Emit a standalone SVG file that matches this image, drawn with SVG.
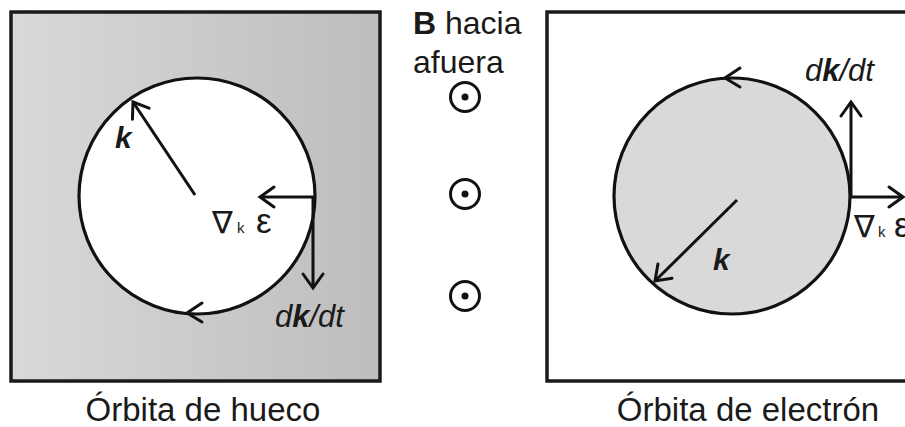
<svg xmlns="http://www.w3.org/2000/svg" width="905" height="427" viewBox="0 0 905 427">
<defs>
  <linearGradient id="gL" x1="0" y1="0" x2="1" y2="0">
    <stop offset="0" stop-color="#d9d9d9"/>
    <stop offset="1" stop-color="#bdbdbd"/>
  </linearGradient>
  <marker id="ah" markerUnits="userSpaceOnUse" markerWidth="30" markerHeight="30" viewBox="-20 -15 30 30" refX="0" refY="0" orient="auto" overflow="visible">
    <path d="M-14,-10 L0,0 L-14,10" fill="none" stroke="#111" stroke-width="3" stroke-linecap="round" stroke-linejoin="miter"/>
  </marker>
</defs>
<style>
  .box{stroke:#1a1a1a;stroke-width:3.5}
  .orbit{stroke:#111;stroke-width:3.2}
  .arr{stroke:#111;stroke-width:3;fill:none;marker-end:url(#ah)}
  .chev{stroke:#111;stroke-width:3;fill:none;stroke-linecap:round}
  .t{font-family:"Liberation Sans",Arial,sans-serif;fill:#1a1a1a}
  .it{font-style:italic}
  .bi{font-style:italic;font-weight:bold}
  .nab{font-family:"DejaVu Sans",sans-serif;fill:#1a1a1a}
  .sym{fill:none;stroke:#111;stroke-width:3}
</style>
<rect width="905" height="427" fill="#ffffff"/>

<g id="hole-panel">
  <rect class="box" x="11" y="12" width="369" height="369" fill="url(#gL)"/>
  <circle class="orbit" cx="197" cy="196" r="118" fill="#ffffff"/>
  <path class="chev" d="M202,303 L187,313 L202,322"/>
  <text class="t bi" x="115" y="148" font-size="30">k</text>
  <text class="nab" x="212" y="233" font-size="31">∇</text>
  <text class="t" x="237" y="233" font-size="15">k</text>
  <text class="t" x="256" y="233" font-size="35">ε</text>
  <text class="t it" x="275" y="327" font-size="31">d<tspan class="bi">k</tspan>/dt</text>
  <text class="t" x="203" y="421" font-size="33" text-anchor="middle">Órbita de hueco</text>
</g>

<g id="electron-panel">
  <rect class="box" x="547" y="12" width="400" height="369" fill="#ffffff"/>
  <circle class="orbit" cx="732" cy="196" r="118" fill="#d9d9d9"/>
  <path class="chev" d="M740,68 L725,78 L740,87"/>
  <text class="t bi" x="713" y="270" font-size="30">k</text>
  <text class="t it" x="805" y="81" font-size="31">d<tspan class="bi">k</tspan>/dt</text>
  <text class="nab" x="854" y="237" font-size="31">∇</text>
  <text class="t" x="878" y="237" font-size="15">k</text>
  <text class="t" x="894" y="237" font-size="35">ε</text>
  <text class="t" x="748" y="421" font-size="33" text-anchor="middle">Órbita de electrón</text>
</g>

<g id="field">
  <text class="t" x="413" y="34" font-size="32"><tspan font-weight="bold">B</tspan> hacia</text>
  <text class="t" x="413" y="73" font-size="32">afuera</text>
  <circle class="sym" cx="465" cy="97" r="14.5"/>
  <circle cx="465" cy="97" r="3.5" fill="#111"/>
  <circle class="sym" cx="465" cy="194" r="14.5"/>
  <circle cx="465" cy="194" r="3.5" fill="#111"/>
  <circle class="sym" cx="465" cy="296" r="14.5"/>
  <circle cx="465" cy="296" r="3.5" fill="#111"/>
</g>

<g id="connectors">
  <line class="arr" x1="195" y1="195" x2="133" y2="102"/>
  <line class="arr" x1="315" y1="197" x2="260" y2="197"/>
  <line class="arr" x1="313" y1="197" x2="313" y2="288"/>
  <line class="arr" x1="737" y1="200" x2="655" y2="281"/>
  <line class="arr" x1="851" y1="197" x2="851" y2="102"/>
  <line class="arr" x1="849" y1="197" x2="903" y2="197"/>
</g>
</svg>
